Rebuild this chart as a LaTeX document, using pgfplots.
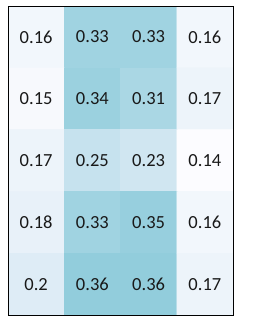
\documentclass[border=0pt]{standalone}
\usepackage{pgfplots}
\pgfplotsset{compat=1.18}
\usepackage{fontspec}
\setmainfont{Carlito}
\begin{document}
\begin{tikzpicture}[x=1bp,y=1bp]
\path (0,0) rectangle (254,320);
\begin{axis}[
  at={(8bp,5bp)}, anchor=south west,
  width=225bp, height=309bp, scale only axis,
  xmin=-0.5, xmax=3.5, ymin=-0.5, ymax=4.5,
  y dir=reverse,
  axis on top,
  xtick=\empty, ytick=\empty,
  axis line style={black, line width=0.8pt},
  colormap={cm}{rgb255(0pt)=(252,252,255) rgb255(27pt)=(222,236,246) rgb255(100pt)=(146,205,220)},
  point meta min=0.14, point meta max=0.36,
]
\addplot[matrix plot*, mesh/cols=4, point meta=explicit, draw=none] table[meta=c] {
x y c
0 0 0.16
1 0 0.33
2 0 0.33
3 0 0.16
0 1 0.15
1 1 0.34
2 1 0.31
3 1 0.17
0 2 0.17
1 2 0.25
2 2 0.23
3 2 0.14
0 3 0.18
1 3 0.33
2 3 0.35
3 3 0.16
0 4 0.20
1 4 0.36
2 4 0.36
3 4 0.17
};
\addplot[only marks, mark=none, point meta=explicit symbolic,
  nodes near coords, nodes near coords align={center},
  every node near coord/.append style={font=\fontsize{18.5bp}{22bp}\selectfont, text=black!90, anchor=center}]
  table[meta=c] {
x y c
0 0 0.16
1 0 0.33
2 0 0.33
3 0 0.16
0 1 0.15
1 1 0.34
2 1 0.31
3 1 0.17
0 2 0.17
1 2 0.25
2 2 0.23
3 2 0.14
0 3 0.18
1 3 0.33
2 3 0.35
3 3 0.16
0 4 0.2
1 4 0.36
2 4 0.36
3 4 0.17
};
\end{axis}
\end{tikzpicture}
\end{document}
